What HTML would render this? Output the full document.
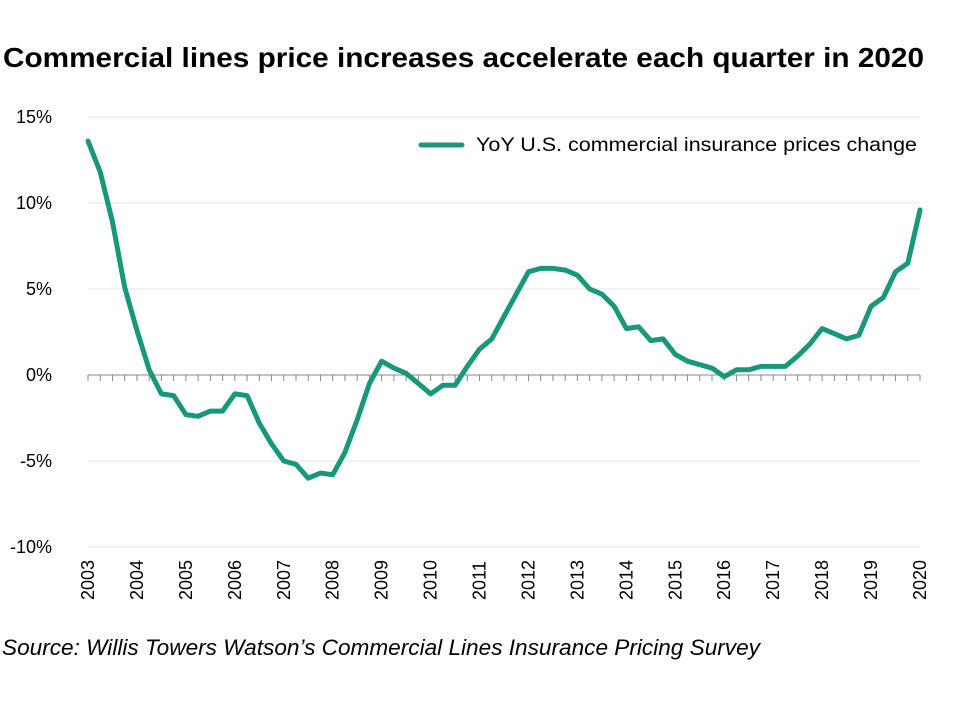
<!DOCTYPE html>
<html><head><meta charset="utf-8"><style>
html,body{margin:0;padding:0;background:#fff;}
body{width:959px;height:700px;overflow:hidden;font-family:"Liberation Sans",sans-serif;}
</style></head><body>
<svg width="959" height="700" xmlns="http://www.w3.org/2000/svg">
<text x="3" y="67" font-size="28" font-weight="bold" fill="#000" textLength="921" lengthAdjust="spacingAndGlyphs">Commercial lines price increases accelerate each quarter in 2020</text>
<g id="grid"></g>
<g id="axis"></g>
<path id="series" fill="none" stroke="#17987a" stroke-width="5" stroke-linejoin="round" stroke-linecap="round"></path>
<g>
<line x1="421" y1="145" x2="462" y2="145" stroke="#17987a" stroke-width="5" stroke-linecap="round"></line>
<text x="476" y="151" font-size="19.5" fill="#000" textLength="441" lengthAdjust="spacingAndGlyphs">YoY U.S. commercial insurance prices change</text>
</g>
<text x="2" y="655" font-size="22" font-style="italic" fill="#000" textLength="758" lengthAdjust="spacingAndGlyphs">Source: Willis Towers Watson’s Commercial Lines Insurance Pricing Survey</text>
</svg>
<script>
const yTicks=[15,10,5,0,-5,-10];
const yTickLabels=["15%","10%","5%","0%","-5%","-10%"];
const years=[2003,2004,2005,2006,2007,2008,2009,2010,2011,2012,2013,2014,2015,2016,2017,2018,2019,2020];
const startYear=2003;
const values=[13.6,11.8,8.9,5.1,2.6,0.3,-1.1,-1.2,-2.3,-2.4,-2.1,-2.1,-1.1,-1.2,-2.8,-4.0,-5.0,-5.2,-6.0,-5.7,-5.8,-4.5,-2.6,-0.5,0.8,0.4,0.1,-0.5,-1.1,-0.6,-0.6,0.5,1.5,2.1,3.4,4.7,6.0,6.2,6.2,6.1,5.8,5.0,4.7,4.0,2.7,2.8,2.0,2.1,1.2,0.8,0.6,0.4,-0.1,0.3,0.3,0.5,0.5,0.5,1.1,1.8,2.7,2.4,2.1,2.3,4.0,4.5,6.0,6.5,9.6];
const NS="http://www.w3.org/2000/svg";
const x0=88,x1=920,yZero=375,pxPer=17.2;
function xs(t){return x0+(t-2003)*(x1-x0)/17;}
function ys(v){return yZero-v*pxPer;}
const grid=document.getElementById('grid'),axis=document.getElementById('axis');
yTicks.forEach((v,i)=>{
 if(v!==0){const l=document.createElementNS(NS,'line');
 l.setAttribute('x1',x0);l.setAttribute('x2',x1);l.setAttribute('y1',ys(v));l.setAttribute('y2',ys(v));
 l.setAttribute('stroke','#e3e3e3');l.setAttribute('stroke-width','1');
 
 
 grid.appendChild(l);}
 const t=document.createElementNS(NS,'text');
 t.setAttribute('x',52);t.setAttribute('y',ys(v)+6);t.setAttribute('text-anchor','end');
 t.setAttribute('font-size','18');t.textContent=yTickLabels[i];
 
 
 axis.appendChild(t);
});
const ax=document.createElementNS(NS,'line');
ax.setAttribute('x1',x0);ax.setAttribute('x2',x1);ax.setAttribute('y1',yZero);ax.setAttribute('y2',yZero);
ax.setAttribute('stroke','#888');ax.setAttribute('stroke-width','1');


axis.appendChild(ax);
for(let q=0;q<values.length;q++){
 const tk=document.createElementNS(NS,'line');const x=xs(startYear+q/4);
 tk.setAttribute('x1',x);tk.setAttribute('x2',x);tk.setAttribute('y1',yZero);tk.setAttribute('y2',yZero+6);
 tk.setAttribute('stroke','#888');
 
 
 axis.appendChild(tk);
}
years.forEach(yr=>{
 const t=document.createElementNS(NS,'text');const x=xs(yr)+6;
 t.setAttribute('transform','translate('+x+',600) rotate(-90)');
 t.setAttribute('font-size','18');t.textContent=yr;
 
 
 axis.appendChild(t);
});
document.getElementById('series').setAttribute('d',values.map((v,i)=>(i?'L':'M')+xs(startYear+i/4).toFixed(1)+','+ys(v).toFixed(1)).join(''));
</script>
</body></html>
